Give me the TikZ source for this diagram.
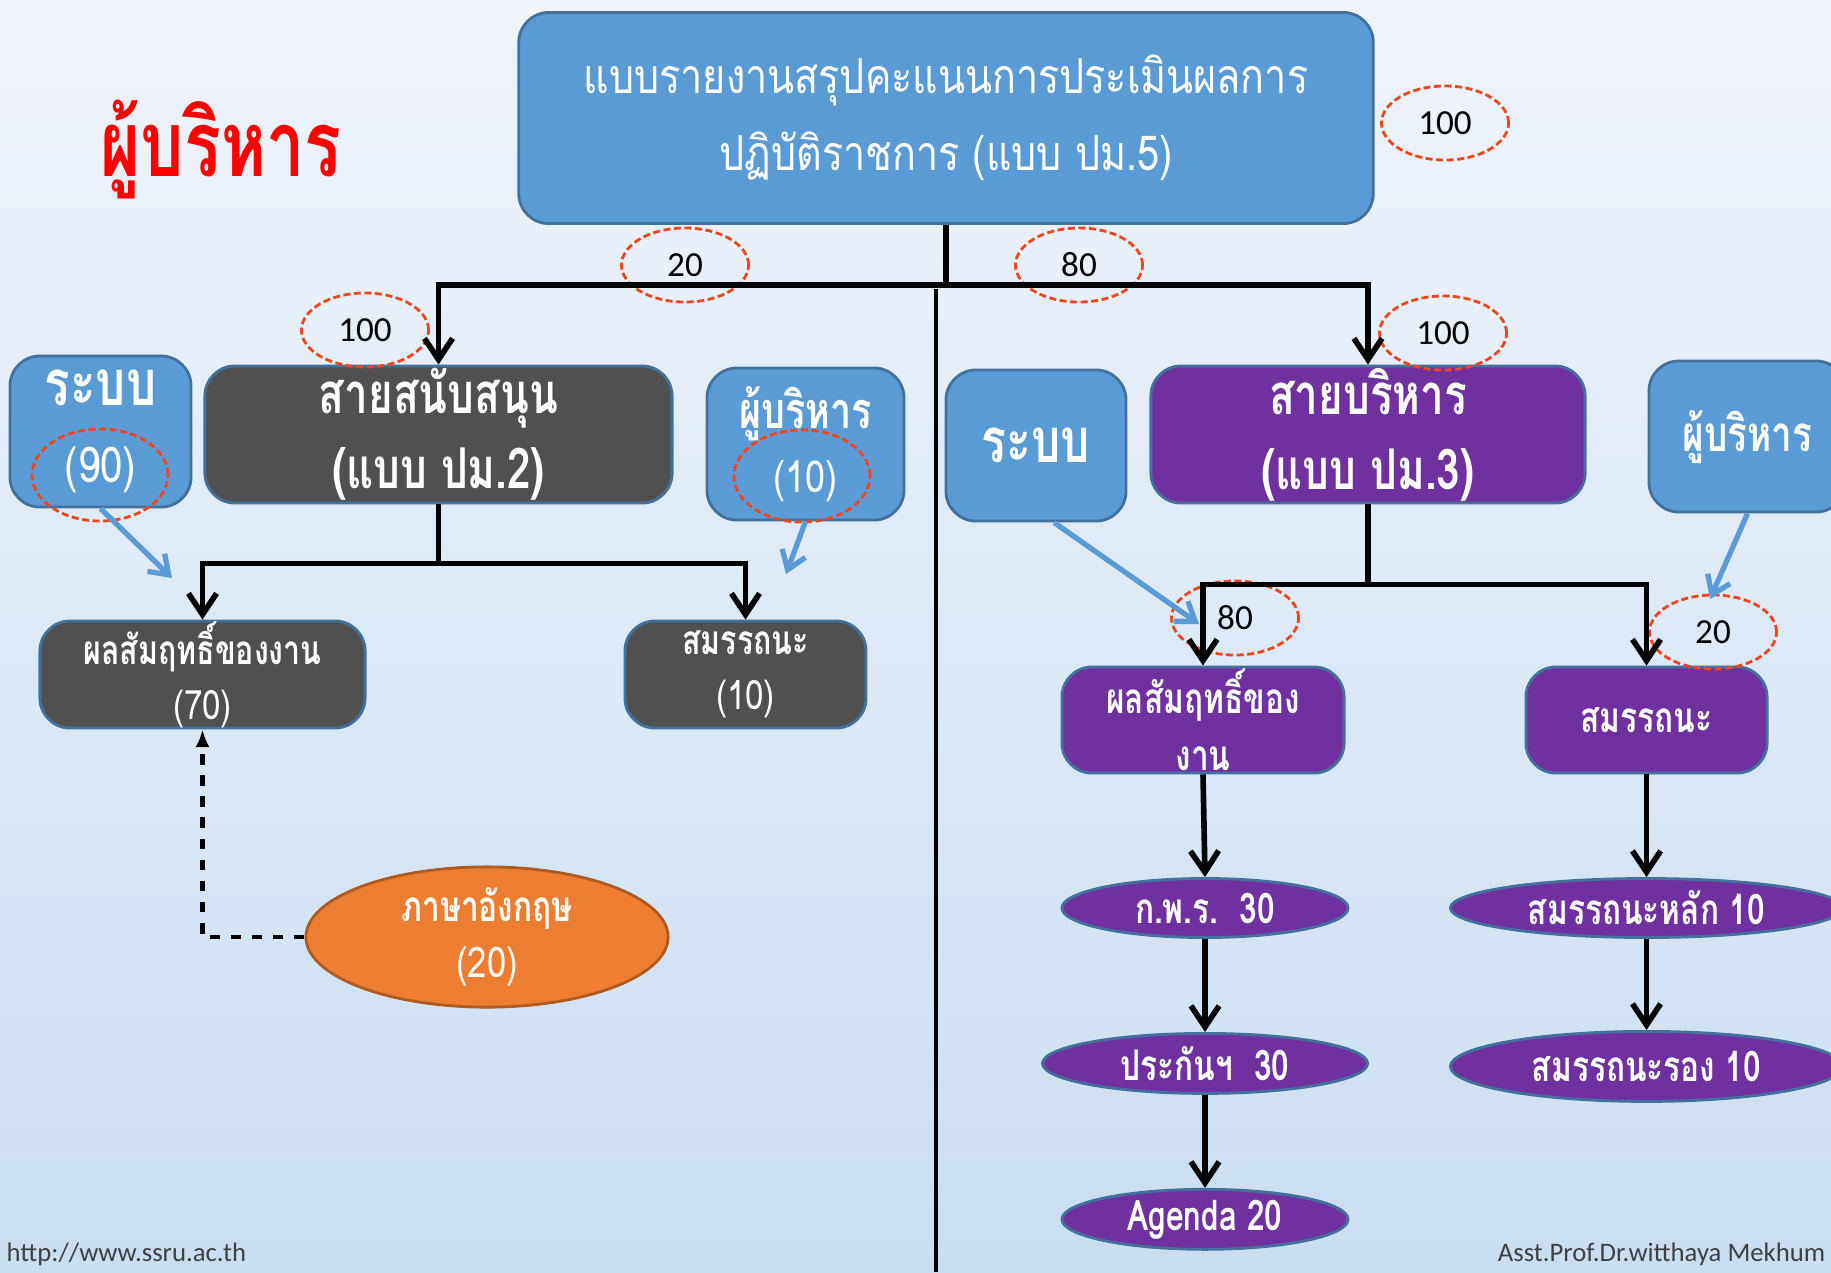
\documentclass[tikz,border=0pt]{standalone}
\usepackage{fontspec}
\setmainfont{Carlito}
\newfontfamily\thaifont[Script=Thai, FakeStretch=0.82, BoldFeatures={FakeStretch=0.75}]{Loma}
\usetikzlibrary{shapes.geometric, arrows.meta, positioning, calc}
\definecolor{cBlue}{RGB}{91,155,213}
\definecolor{cEdge}{RGB}{65,113,156}
\definecolor{cGrey}{RGB}{80,80,80}
\definecolor{cViolet}{RGB}{112,48,160}
\definecolor{cOrange}{RGB}{237,125,49}
\definecolor{cOrangeEdge}{RGB}{174,90,33}
\definecolor{cMark}{RGB}{240,70,30}
\definecolor{cTop}{RGB}{240,244,251}
\definecolor{cMid}{RGB}{182,210,236}
\definecolor{cBottom}{RGB}{202,222,241}
\definecolor{cFoot}{RGB}{64,64,64}

\begin{document}
\begin{tikzpicture}[
    x=0.01cm, y=-0.01cm,
    box/.style={draw=cEdge, line width=0.8pt, rounded corners=0.3cm, align=center, text=white, inner sep=0pt},
    bluebox/.style={box, fill=cBlue},
    greybox/.style={box, fill=cGrey},
    violetbox/.style={box, fill=cViolet},
    score/.style={ellipse, draw=cMark, dash pattern=on 2pt off 1pt, line width=0.8pt, minimum width=1.27cm, minimum height=0.74cm, inner sep=0pt, font=\fontsize{10}{12}\selectfont},
    pill/.style={ellipse, draw=cEdge, line width=0.8pt, fill=cViolet, text=white, inner sep=0pt, font=\thaifont\bfseries\fontsize{12}{14}\selectfont},
    arrow/.style={line width=1.6pt, -{Straight Barb[length=6pt,width=8pt]}},
    hint/.style={draw=cBlue, line width=1.5pt, -{Straight Barb[length=5pt,width=7pt]}}
]
    % background
    \clip (0,0) rectangle (1831,1272);
    \shade[top color=cTop, middle color=cMid, bottom color=cBottom] (0,0) rectangle (1831,1272);

    \node[text=red, font=\thaifont\bfseries\fontsize{26}{30}\selectfont] (title) at (221,150) {ผู้บริหาร};

    % top level
    \node[bluebox, minimum width=8.54cm, minimum height=2.11cm, font=\thaifont\fontsize{13.7}{21.9}\selectfont] (top) at (946,118)
        {แบบรายงานสรุปคะแนนการประเมินผลการ\\ปฏิบัติราชการ (แบบ ปม.5)};
    \node[score] (s100) at (1445,123) {100};

    % left branch
    \node[greybox, minimum width=4.67cm, minimum height=1.37cm, font=\thaifont\bfseries\fontsize{16}{21.3}\selectfont] (support) at (438.5,434.5)
        {สายสนับสนุน\\(แบบ ปม.2)};
    \node[bluebox, minimum width=1.81cm, minimum height=1.51cm, font=\thaifont\fontsize{14}{21.9}\selectfont] (sys1) at (100.5,431.5)
        {{\bfseries\fontsize{18}{21.9}\selectfont ระบบ}\\(90)};
    \node[bluebox, minimum width=1.97cm, minimum height=1.52cm, font=\thaifont\fontsize{12.5}{18}\selectfont] (mgr1) at (805.5,444)
        {{\bfseries\fontsize{14.3}{18}\selectfont ผู้บริหาร}\\(10)};
    \node[score, minimum width=1.36cm, minimum height=0.92cm] (ring90) at (100,475) {};
    \node[score, minimum width=1.36cm, minimum height=0.92cm] (ring10) at (802,476) {};
    \node[greybox, minimum width=3.25cm, minimum height=1.07cm, font=\thaifont\fontsize{11.5}{15.6}\selectfont] (res1) at (202.5,674.5)
        {\bfseries ผลสัมฤทธิ์ของงาน\\(70)};
    \node[greybox, minimum width=2.41cm, minimum height=1.07cm, font=\thaifont\fontsize{11.5}{15.6}\selectfont] (comp1) at (745.5,674.5)
        {\bfseries สมรรถนะ\\(10)};
    \node[ellipse, draw=cOrangeEdge, line width=0.8pt, fill=cOrange, text=white, align=center, inner sep=0pt,
        minimum width=3.62cm, minimum height=1.25cm, font=\thaifont\fontsize{12}{16}\selectfont] (eng) at (487,937)
        {\bfseries ภาษาอังกฤษ\\(20)};

    % right branch
    \node[bluebox, minimum width=1.80cm, minimum height=1.51cm, font=\thaifont\bfseries\fontsize{17.5}{18}\selectfont] (sys2) at (1036,445.5) {ระบบ};
    \node[violetbox, minimum width=4.34cm, minimum height=1.37cm, font=\thaifont\bfseries\fontsize{16}{21.3}\selectfont] (admin) at (1368,434.5)
        {สายบริหาร\\(แบบ ปม.3)};
    \node[bluebox, minimum width=1.97cm, minimum height=1.51cm, font=\thaifont\bfseries\fontsize{14}{18}\selectfont] (mgr2) at (1747.5,436.5) {ผู้บริหาร};
    \node[violetbox, minimum width=2.82cm, minimum height=1.06cm, font=\thaifont\bfseries\fontsize{12}{16.2}\selectfont] (res2) at (1203,720)
        {ผลสัมฤทธิ์ของ\\งาน};
    \node[violetbox, minimum width=2.41cm, minimum height=1.06cm, font=\thaifont\bfseries\fontsize{12}{16}\selectfont] (comp2) at (1646.5,720) {สมรรถนะ};
    \node[pill, minimum width=2.86cm, minimum height=0.59cm] (kpr) at (1205,908) {ก.พ.ร.\ \ 30};
    \node[pill, minimum width=3.25cm, minimum height=0.60cm, below=0.93cm of kpr] (qa) {ประกันฯ\ \ 30};
    \node[pill, minimum width=2.86cm, minimum height=0.60cm, below=0.93cm of qa] (agenda) {Agenda 20};
    \node[pill, minimum width=3.92cm, minimum height=0.59cm] (core) at (1646.5,908) {สมรรถนะหลัก 10};
    \node[pill, minimum width=3.92cm, minimum height=0.70cm, below=0.91cm of core] (minor) {สมรรถนะรอง 10};

    % score marks
    \node[score] (s20) at (685,265) {20};
    \node[score] (s80) at (1079,265) {80};
    \node[score] (sup100) at (365,330) {100};
    \node[score] (adm100) at (1443,333) {100};
    \node[score] (res80) at (1235,618) {80};
    \node[score] (comp20) at (1713,632) {20};

    % connectors
    \draw[arrow] (top.south) -- ++(0,60) -| (support.north);
    \draw[arrow] (top.south) -- ++(0,60) -| (admin.north);
    \draw[line width=1.2pt] (936,289) -- (936,1272);
    \draw[arrow] (support.south) -- ++(0,59) -| (res1.north);
    \draw[arrow] (support.south) -- ++(0,59) -| (comp1.north);
    \draw[arrow] (admin.south) -- ++(0,80) -| (res2.north);
    \draw[arrow] (admin.south) -- ++(0,80) -| (comp2.north);
    \draw[arrow] (res2.south) -- (kpr.north);
    \draw[arrow] (kpr.south) -- (qa.north);
    \draw[arrow] (qa.south) -- (agenda.north);
    \draw[arrow] (comp2.south) -- (core.north);
    \draw[arrow] (core.south) -- (minor.north);
    \draw[dashed, line width=1.3pt, -{Latex[length=5pt,width=4pt]}] (eng.west) -| (res1.south);

    % hints
    \coordinate (sys1tip) at (172,578);
    \coordinate (mgr1tip) at (786,574);
    \coordinate (sys2tip) at (1199,624);
    \coordinate (mgr2tip) at (1710,599);
    \draw[hint] (sys1.south) -- (sys1tip);
    \draw[hint] (mgr1.south) -- (mgr1tip);
    \draw[hint] ($(sys2.south)+(18,0)$) -- (sys2tip);
    \draw[hint] (mgr2.south) -- (mgr2tip);

    % footer
    \node[anchor=south west, text=cFoot, font=\fontsize{7.6}{9}\selectfont, inner sep=0pt] (url) at (6,1266) {http://www.ssru.ac.th};
    \node[anchor=south east, text=cFoot, font=\fontsize{7.6}{9}\selectfont, inner sep=0pt] (author) at (1826,1266) {Asst.Prof.Dr.witthaya Mekhum};
\end{tikzpicture}
\end{document}
